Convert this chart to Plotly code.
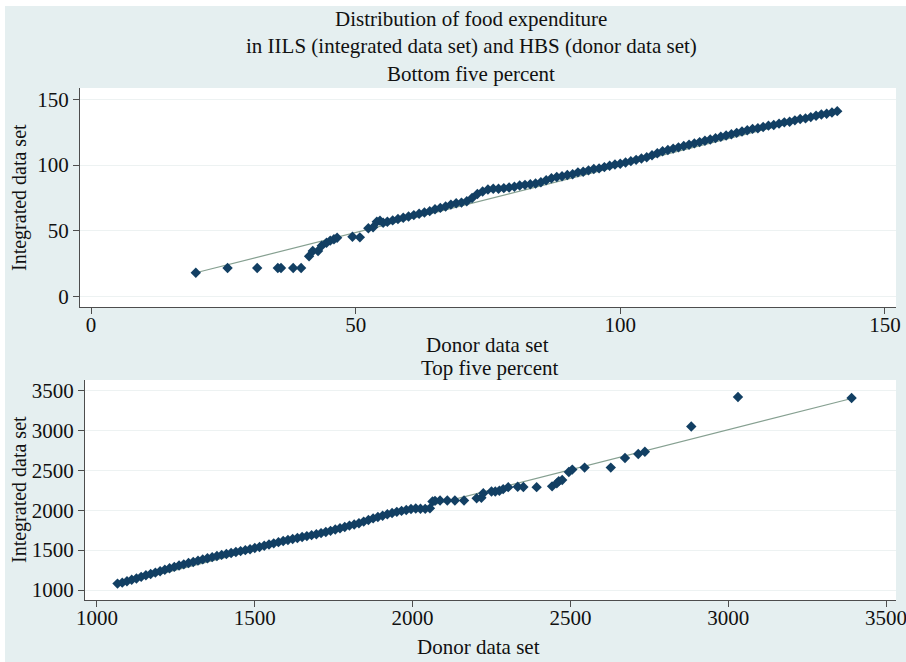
import plotly.graph_objects as go

# ---------------- data: bottom five percent ----------------
bottom_donor = [19.8, 25.8, 31.4, 35.3, 35.9, 38.2, 39.7, 41.2, 41.9, 42.9, 43.6, 44.5, 45.2,
                45.9, 46.5, 49.4, 50.8, 52.4, 53.3, 54.0, 54.6, 55.2,
                56, 57, 58, 59, 60, 61, 62, 63, 64, 65, 66, 67, 68, 69, 70, 71, 72, 73, 74,
                75, 76, 77, 78, 79, 80, 81, 82, 83, 84, 85, 86, 87, 88, 89, 90, 91, 92, 93,
                94, 95, 96, 97, 98, 99, 100, 101, 102, 103, 104, 105, 106, 107, 108, 109, 110,
                111, 112, 113, 114, 115, 116, 117, 118, 119, 120, 121, 122, 123, 124, 125, 126,
                127, 128, 129, 130, 131, 132, 133, 134, 135, 136, 137, 138, 139, 140, 141]
bottom_integrated = [18.2, 21.8, 21.8, 21.8, 21.8, 21.8, 21.8, 30.7, 34.7, 34.7, 38.8, 41.0, 42.6,
                     43.6, 44.8, 45.6, 45.1, 52.0, 52.7, 57.0, 57.8, 56.2,
                     57, 58, 59, 60, 61, 62, 63, 64, 65, 66.5, 67.5, 68.5, 70, 71, 71.5, 72.5, 75, 78, 80,
                     81.5, 82, 82, 82.5, 83, 83.5, 84.5, 85, 85.5, 86, 87, 88.5, 90, 91, 91.5, 92.5, 93, 94.5, 95,
                     96, 97, 97.5, 98.5, 99.5, 100.5, 101, 102, 103, 104, 105, 106, 107.5, 109, 110.5, 111.5, 112.5,
                     113.5, 114.5, 115.5, 116.5, 117.5, 118.5, 119.5, 120.5, 121.5, 122.5, 123.5, 124.5, 125.5, 126.5,
                     127.5, 128, 129, 130, 130.5, 131.5, 132.5, 133, 134, 135, 135.5, 136.5, 137.5, 138.5, 139, 140, 141]
bottom_fit_x = [19.8, 141.2]
bottom_fit_y = [18.2, 141.1]

# ---------------- data: top five percent ----------------
top_donor = [1065, 1080, 1095, 1110, 1125, 1140, 1155, 1170, 1185, 1200, 1215, 1230, 1245, 1260,
             1275, 1290, 1305, 1320, 1335, 1350, 1365, 1380, 1395, 1410, 1425, 1440, 1455, 1470,
             1485, 1500, 1515, 1530, 1545, 1560, 1575, 1590, 1605, 1620, 1635, 1650, 1665, 1680,
             1695, 1710, 1725, 1740, 1755, 1770, 1785, 1800, 1815, 1830, 1845, 1860, 1875, 1890,
             1905, 1920, 1935, 1950, 1965, 1980, 1995, 2010, 2025, 2040, 2055,
             2063, 2071, 2087, 2110, 2134, 2163, 2203, 2218, 2224, 2250, 2262, 2275, 2287, 2303,
             2333, 2351, 2393, 2442, 2457, 2463, 2474, 2495, 2506, 2545, 2628, 2673, 2715, 2736,
             2883, 3031, 3391]
top_integrated = [1080, 1092, 1110, 1128, 1145, 1165, 1185, 1200, 1218, 1236, 1254, 1272, 1290, 1308,
                  1322, 1338, 1352, 1368, 1384, 1398, 1412, 1426, 1440, 1452, 1465, 1476, 1488, 1500,
                  1512, 1526, 1540, 1555, 1570, 1585, 1600, 1614, 1628, 1640, 1652, 1664, 1676, 1688,
                  1700, 1714, 1728, 1742, 1758, 1774, 1790, 1808, 1822, 1838, 1858, 1878, 1898, 1915,
                  1932, 1950, 1966, 1980, 1992, 2004, 2016, 2022, 2020, 2018, 2024,
                  2110, 2118, 2122, 2122, 2122, 2122, 2150, 2158, 2213, 2235, 2235, 2245, 2265, 2290,
                  2295, 2292, 2290, 2300, 2338, 2365, 2380, 2481, 2510, 2535, 2535, 2655, 2706, 2735,
                  3050, 3420, 3408]
top_fit_x = [1062, 3391]
top_fit_y = [1062, 3402]

bottom_ticks = [0, 50, 100, 150]
top_xticks = [1000, 1500, 2000, 2500, 3000, 3500]
top_yticks = [1000, 1500, 2000, 2500, 3000, 3500]

title_lines = ["Distribution of food expenditure",
               "in IILS (integrated data set) and HBS (donor data set)",
               "Bottom five percent"]
panel2_title = "Top five percent"
x_title = "Donor data set"
y_title = "Integrated data set"

# ---------------- styling ----------------
W, H = 906, 662
FONT = "Liberation Serif, Times New Roman, serif"
MARK = "#123f63"
LINE = "#86a091"
BG = "#e5eff0"
GRID = "#edf2f2"
AX = "#4d4d4d"
FS = 21

def px_x(p):  # p: screen pixel
    return p / W

def px_y(p):
    return 1 - p / H

fig = go.Figure()

fig.add_trace(go.Scatter(x=bottom_fit_x, y=bottom_fit_y, mode="lines",
                         line=dict(color=LINE, width=1.2), xaxis="x", yaxis="y",
                         showlegend=False, hoverinfo="skip"))
fig.add_trace(go.Scatter(x=bottom_donor, y=bottom_integrated, mode="markers",
                         marker=dict(symbol="diamond", size=8, color=MARK),
                         xaxis="x", yaxis="y", showlegend=False))
fig.add_trace(go.Scatter(x=top_fit_x, y=top_fit_y, mode="lines",
                         line=dict(color=LINE, width=1.2), xaxis="x2", yaxis="y2",
                         showlegend=False, hoverinfo="skip"))
fig.add_trace(go.Scatter(x=top_donor, y=top_integrated, mode="markers",
                         marker=dict(symbol="diamond", size=8, color=MARK),
                         xaxis="x2", yaxis="y2", showlegend=False))

axis_common = dict(showline=True, linecolor=AX, linewidth=1.3, ticks="outside",
                   ticklen=6, tickcolor=AX, tickwidth=1, zeroline=False, automargin=False,
                   ticklabeloverflow="allow",
                   tickfont=dict(family=FONT, size=FS, color="#111"))

fig.update_layout(
    width=W, height=H,
    margin=dict(l=0, r=0, t=0, b=0),
    paper_bgcolor=BG, plot_bgcolor="white",
    font=dict(family=FONT, size=FS, color="#111"),
    xaxis=dict(domain=[px_x(80), px_x(896)], range=[-2.08, 152.1],
               tickvals=bottom_ticks, showgrid=False, anchor="y",
               ticklabelstandoff=-7, **axis_common),
    yaxis=dict(domain=[px_y(307), px_y(88)], range=[-7.83, 158.6],
               tickvals=bottom_ticks, showgrid=True, gridcolor=GRID, gridwidth=1,
               anchor="x", **axis_common),
    xaxis2=dict(domain=[px_x(85), px_x(896)], range=[962, 3531.7],
                tickvals=top_xticks, showgrid=False, anchor="y2",
                ticklabelstandoff=-7, **axis_common),
    yaxis2=dict(domain=[px_y(600), px_y(380)], range=[874.6, 3634],
                tickvals=top_yticks, showgrid=True, gridcolor=GRID, gridwidth=1,
                anchor="x2", **axis_common),
)

# thin white frame at the top and left edges, as in the reference scan
fig.add_shape(type="rect", xref="paper", yref="paper", x0=0, x1=1, y0=px_y(6), y1=1,
              fillcolor="white", line=dict(width=0), layer="above")
fig.add_shape(type="rect", xref="paper", yref="paper", x0=0, x1=px_x(5), y0=0, y1=1,
              fillcolor="white", line=dict(width=0), layer="above")

def label(txt, x, y, angle=0, size=FS):
    return dict(text=txt, x=px_x(x), y=px_y(y), xref="paper", yref="paper",
                showarrow=False, xanchor="center", yanchor="middle", textangle=angle,
                font=dict(family=FONT, size=size, color="#111"))

ann = []
for txt, py in zip(title_lines, [19, 46, 74]):
    ann.append(label(txt, 471, py))
ann.append(label(x_title, 487, 345))
ann.append(label(panel2_title, 489, 368))
ann.append(label(x_title, 478, 647))
for py in [198, 490]:
    ann.append(label(y_title, 19, py, angle=-90, size=20))
fig.update_layout(annotations=ann)

fig.write_html("out.html", config={"responsive": False, "displayModeBar": False},
               post_script="document.body.style.margin='0';"
                           "document.body.style.overflow='hidden';")
